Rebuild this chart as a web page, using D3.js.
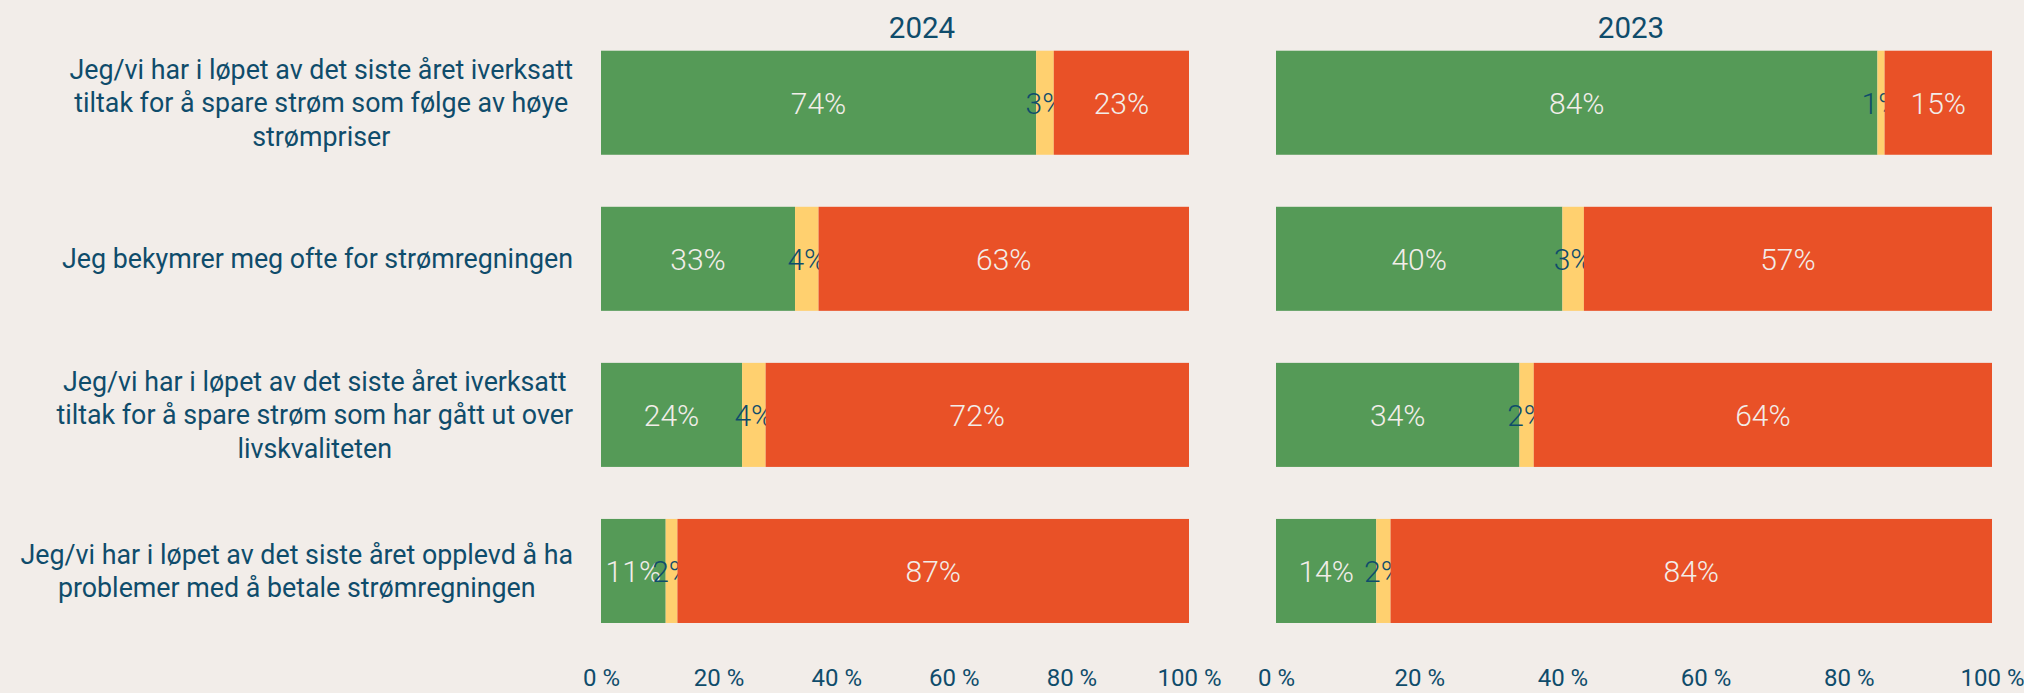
<!DOCTYPE html>
<html>
<head>
<meta charset="utf-8">
<script src="https://cdn.jsdelivr.net/npm/d3@7"></script>
<style>
  html, body { margin: 0; padding: 0; background: #f2ede9; }
  svg { display: block; }
</style>
</head>
<body>
<div id="chart"></div>
<script>
/*
Stacked percentage bars, 2024 vs 2023
*/

// category labels, already split in lines like the original
var categories = [
    ["Jeg/vi har i løpet av det siste året iverksatt",
     "tiltak for å spare strøm som følge av høye",
     "strømpriser"],
    ["Jeg bekymrer meg ofte for strømregningen"],
    ["Jeg/vi har i løpet av det siste året iverksatt",
     "tiltak for å spare strøm som har gått ut over",
     "livskvaliteten"],
    ["Jeg/vi har i løpet av det siste året opplevd å ha",
     "problemer med å betale strømregningen"]
];

var years = ["2024", "2023"];

// values per year: [agree, neutral, disagree] for each category
var agree2024    = [74, 33, 24, 11];
var neutral2024  = [3, 4, 4, 2];
var disagree2024 = [23, 63, 72, 87];

var agree2023    = [84, 40, 34, 14];
var neutral2023  = [1, 3, 2, 2];
var disagree2023 = [15, 57, 64, 84];

var tickValues = [0, 20, 40, 60, 80, 100];

var keys = ["agree", "neutral", "disagree"];
var colors = { agree: "#559a57", neutral: "#ffd06f", disagree: "#e95127" };
var labelColors = { agree: "#f2ede9", neutral: "#0f4c6b", disagree: "#f2ede9" };
var textColor = "#0f4c6b";

var width = 2024, height = 693;

var svg = d3.select("#chart")
    .append("svg")
    .attr("width", width)
    .attr("height", height);

svg.append("rect")
    .attr("width", width)
    .attr("height", height)
    .attr("fill", "#f2ede9");

var y = d3.scaleBand()
    .domain(d3.range(categories.length))
    .range([24.7, 649])
    .paddingInner(1 / 3)
    .paddingOuter(1 / 6);

// panels: each year gets its own x scale
var panels = [
    { year: years[0], range: [601, 1189], titleX: 922,
      values: [agree2024, neutral2024, disagree2024] },
    { year: years[1], range: [1276, 1992], titleX: 1631,
      values: [agree2023, neutral2023, disagree2023] }
];

var stack = d3.stack().keys(keys);

panels.forEach(function(p) {
    var x = d3.scaleLinear().domain([0, 100]).range(p.range);

    var rows = categories.map(function(c, i) {
        return { index: i, agree: p.values[0][i], neutral: p.values[1][i], disagree: p.values[2][i] };
    });
    var series = stack(rows);

    var g = svg.append("g");

    g.append("text")
        .attr("x", p.titleX)
        .attr("y", 38)
        .attr("text-anchor", "middle")
        .attr("font-family", "Roboto, sans-serif")
        .attr("font-size", "29.5px")
        .attr("fill", textColor)
        .text(p.year);

    var layer = g.selectAll("g.layer")
        .data(series)
        .enter()
        .append("g")
        .attr("class", "layer")
        .attr("fill", function(d) { return colors[d.key]; });

    layer.selectAll("rect")
        .data(function(d) { return d; })
        .enter()
        .append("rect")
        .attr("x", function(d) { return x(d[0]); })
        .attr("y", function(d) { return y(d.data.index); })
        .attr("width", function(d) { return x(d[1]) - x(d[0]); })
        .attr("height", y.bandwidth());

    layer.selectAll("text")
        .data(function(d) {
            return d.map(function(v) { v.key = d.key; return v; });
        })
        .enter()
        .append("text")
        .attr("x", function(d) { return x((d[0] + d[1]) / 2); })
        .attr("y", function(d) { return y(d.data.index) + y.bandwidth() / 2; })
        .attr("dy", ".36em")
        .attr("text-anchor", "middle")
        .attr("font-family", "Roboto, sans-serif")
        .attr("font-weight", 300)
        .attr("font-size", "30px")
        .attr("fill", function(d) { return labelColors[d.key]; })
        .text(function(d) { return (d[1] - d[0]) + "%"; });

    var axis = g.append("g")
        .attr("transform", "translate(0," + 669 + ")")
        .call(d3.axisBottom(x)
            .tickValues(tickValues)
            .tickSize(0)
            .tickPadding(0)
            .tickFormat(function(d) { return d + " %"; }));

    axis.select(".domain").remove();
    axis.selectAll("text")
        .attr("font-family", "Roboto, sans-serif")
        .attr("font-size", "24px")
        .attr("fill", textColor)
        .attr("dy", "0.71em");
});

// category labels: block right aligned, lines centred within block
var labelRight = 573;
var lineHeight = 33.5;

categories.forEach(function(lines, i) {
    var t = svg.append("text")
        .attr("font-family", "Roboto, sans-serif")
        .attr("font-size", "26.8px")
        .attr("fill", textColor)
        .attr("text-anchor", "middle");

    var spans = lines.map(function(line) {
        return t.append("tspan").text(line);
    });
    var maxW = d3.max(spans, function(s) { return s.node().getComputedTextLength(); });
    var cx = labelRight - maxW / 2;
    var cy = y(i) + y.bandwidth() / 2;
    var firstY = cy - (lines.length - 1) * lineHeight / 2;

    spans.forEach(function(s, k) {
        s.attr("x", cx)
         .attr("y", firstY + k * lineHeight)
         .attr("dy", ".35em");
    });
});
</script>
</body>
</html>
